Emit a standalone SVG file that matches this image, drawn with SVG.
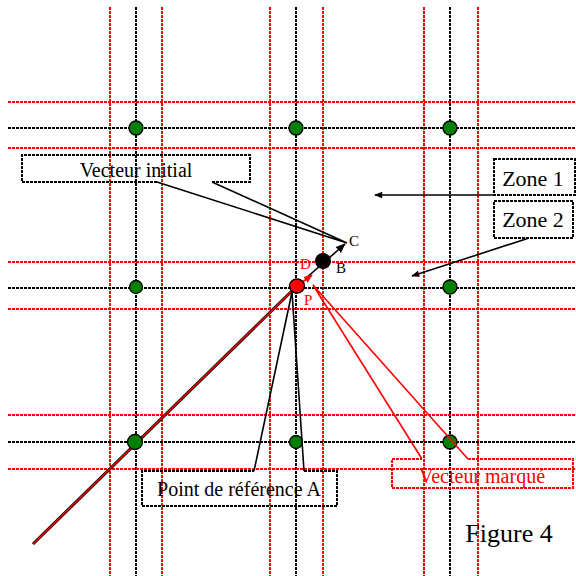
<svg xmlns="http://www.w3.org/2000/svg" width="576" height="576" viewBox="0 0 576 576">
<defs>
<style>
.gk{stroke:#000;stroke-width:2;stroke-dasharray:3 1;fill:none}
.gr{stroke:#f00;stroke-width:2;stroke-dasharray:3 1;fill:none}
.dot{fill:#008000;stroke:#000;stroke-width:1.3}
.box{fill:none;stroke:#000;stroke-width:2;stroke-dasharray:3 1}
.rbox{fill:none;stroke:#f00;stroke-width:2;stroke-dasharray:3 1}
.t{font-family:"Liberation Serif","Times New Roman",serif;font-size:20px;fill:#000}
.ln{stroke:#000;stroke-width:1.6;fill:none}
</style>
<marker id="ah" viewBox="0 0 10 10" refX="9" refY="5" markerWidth="9" markerHeight="8" orient="auto" markerUnits="userSpaceOnUse">
<path d="M0,1 L10,5 L0,9 Z" fill="#000"/>
</marker>
<marker id="ahr" viewBox="0 0 10 10" refX="9" refY="5" markerWidth="9" markerHeight="9" orient="auto" markerUnits="userSpaceOnUse">
<path d="M0,1 L10,5 L0,9 Z" fill="#f00"/>
</marker>
<marker id="ahk" viewBox="0 0 10 10" refX="9" refY="5" markerWidth="10" markerHeight="10" orient="auto" markerUnits="userSpaceOnUse">
<path d="M0,1 L10,5 L0,9 Z" fill="#000"/>
</marker>
</defs>
<rect width="576" height="576" fill="#fff"/>
<g id="grid">
<line class="gr" x1="110" y1="7" x2="110" y2="576"/>
<line class="gk" x1="136" y1="7" x2="136" y2="576"/>
<line class="gr" x1="162" y1="7" x2="162" y2="576"/>
<line class="gr" x1="270" y1="7" x2="270" y2="576"/>
<line class="gk" x1="296" y1="7" x2="296" y2="576"/>
<line class="gr" x1="323" y1="7" x2="323" y2="576"/>
<line class="gr" x1="424" y1="7" x2="424" y2="576"/>
<line class="gk" x1="450" y1="7" x2="450" y2="576"/>
<line class="gr" x1="478" y1="7" x2="478" y2="576"/>
<line class="gr" x1="8" y1="102" x2="576" y2="102"/>
<line class="gk" x1="8" y1="128" x2="576" y2="128"/>
<line class="gr" x1="8" y1="148" x2="576" y2="148"/>
<line class="gr" x1="8" y1="262" x2="576" y2="262"/>
<line class="gk" x1="8" y1="288" x2="576" y2="288"/>
<line class="gr" x1="8" y1="309" x2="576" y2="309"/>
<line class="gr" x1="8" y1="415" x2="576" y2="415"/>
<line class="gk" x1="8" y1="442" x2="576" y2="442"/>
<line class="gr" x1="8" y1="469" x2="576" y2="469"/>
</g>
<g id="connectors">
<line x1="33" y1="544" x2="297" y2="286" stroke="#000" stroke-width="3"/>
<line x1="33" y1="544" x2="297" y2="286" stroke="#f00" stroke-width="1.4"/>
<line class="ln" x1="305" y1="279" x2="345" y2="244" marker-end="url(#ahk)"/>
<line x1="297" y1="286" x2="312" y2="275" stroke="#f00" stroke-width="1.6" marker-end="url(#ahr)"/>
<line class="ln" x1="494" y1="195" x2="375" y2="195" marker-end="url(#ah)"/>
<line class="ln" x1="529" y1="238" x2="412" y2="276" marker-end="url(#ah)"/>
</g>
<g id="dots">
<circle class="dot" cx="136" cy="128" r="7"/>
<circle class="dot" cx="296" cy="128" r="7"/>
<circle class="dot" cx="450" cy="128" r="7"/>
<circle class="dot" cx="136" cy="287" r="6.5"/>
<circle class="dot" cx="450" cy="287" r="7"/>
<circle class="dot" cx="135" cy="442" r="7.5"/>
<circle class="dot" cx="296" cy="442" r="6.5"/>
<circle class="dot" cx="450" cy="442" r="7"/>
</g>
<g id="pointA">
<ellipse cx="297" cy="286" rx="7.5" ry="7" fill="#f00" stroke="#000" stroke-width="1.3"/>
<text class="t" x="300" y="269" style="font-size:15px;fill:#f00">D</text>
<text class="t" x="304" y="305" style="font-size:15px;fill:#f00">P</text>
</g>
<g id="pointB">
<circle cx="323" cy="261" r="8" fill="#000"/>
<text class="t" x="336" y="273" style="font-size:15px">B</text>
</g>
<g id="pointC">
<text class="t" x="349" y="246" style="font-size:15px">C</text>
</g>
<g id="vecteur-initial">
<path class="box" d="M212,182 H250 V155 H22 V182 H157"/>
<path class="ln" d="M212,182 L347,243 L157,182"/>
<text class="t" x="136" y="177" text-anchor="middle">Vecteur initial</text>
</g>
<g id="zone1">
<rect class="box" x="494" y="159" width="81" height="36"/>
<text class="t" x="533" y="186" text-anchor="middle" style="font-size:22px">Zone 1</text>
</g>
<g id="zone2">
<rect class="box" x="494" y="201" width="79" height="37"/>
<text class="t" x="533" y="227" text-anchor="middle" style="font-size:22px">Zone 2</text>
</g>
<g id="point-reference">
<path class="box" d="M304,471 H337 V506 H142 V471 H254"/>
<path class="ln" d="M254,471 L292,292 L304,471"/>
<text class="t" x="239" y="496" text-anchor="middle">Point de référence A</text>
</g>
<g id="vecteur-marque">
<path class="rbox" d="M468,459 H573 V488 H392 V459 H422"/>
<path d="M422,459 L313,285 L468,459" fill="none" stroke="#f00" stroke-width="1.6"/>
<text class="t" x="482" y="483" text-anchor="middle" style="fill:#f00">Vecteur marqué</text>
</g>
<g id="caption">
<text class="t" x="509" y="542" text-anchor="middle" style="font-size:26px">Figure 4</text>
</g>
</svg>
